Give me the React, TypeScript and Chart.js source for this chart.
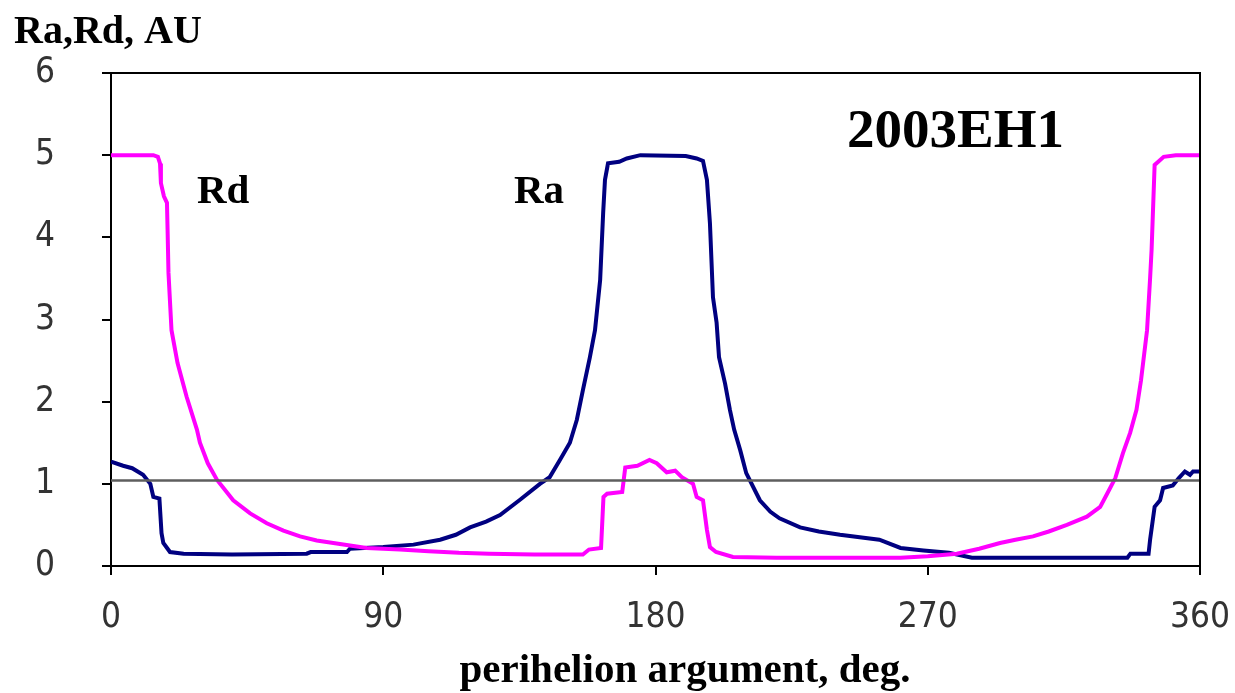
import React, { useEffect, useRef } from "react";
import { Chart, registerables } from "chart.js";

Chart.register(...registerables);

// perihelion argument (deg) and Rd (AU)
const rdX = [0, 14, 15.5, 16.2, 16.5, 17.5, 18.5, 18.7, 19, 20, 22, 25, 28.4, 29.4, 32, 35, 40.4, 46, 51.5, 57, 62.5, 68, 73.5, 79, 84.5, 90, 95.5, 105, 115, 125, 140, 150, 156, 158, 162, 162.8, 164, 169, 170, 174, 178, 180.4, 183.7, 186.5, 188.7, 192.4, 193.6, 195.7, 197, 198, 200, 205.6, 220, 250, 261, 270, 279.6, 287, 293.9, 299, 304.8, 310, 316, 322.6, 327, 329.3, 332, 334.5, 336.9, 339, 340.5, 342.5, 343.5, 344, 345, 348, 352, 360];
const rdY = [5.0, 5.0, 4.98, 4.9, 4.66, 4.5, 4.42, 4.1, 3.57, 2.87, 2.47, 2.06, 1.66, 1.5, 1.25, 1.05, 0.8, 0.64, 0.52, 0.43, 0.36, 0.31, 0.28, 0.25, 0.22, 0.21, 0.2, 0.18, 0.16, 0.15, 0.14, 0.14, 0.14, 0.2, 0.22, 0.84, 0.88, 0.9, 1.2, 1.22, 1.29, 1.25, 1.14, 1.16, 1.08, 1.0, 0.84, 0.8, 0.44, 0.23, 0.17, 0.11, 0.1, 0.1, 0.1, 0.12, 0.15, 0.21, 0.28, 0.32, 0.36, 0.42, 0.5, 0.6, 0.72, 0.88, 1.07, 1.37, 1.62, 1.9, 2.26, 2.87, 3.5, 3.85, 4.88, 4.98, 5.0, 5.0];

// perihelion argument (deg) and Ra (AU)
const raX = [0, 4, 7, 10.6, 13, 14, 16, 16.7, 17.3, 19.5, 24, 40, 64.7, 66, 78, 79, 90, 100, 108.8, 114, 118.7, 124, 128.6, 135, 141.8, 145, 148.4, 151.7, 154, 156, 158.3, 160, 161.7, 162.7, 163.3, 164.3, 168, 170.5, 175, 190, 193.6, 195.7, 197, 198, 199, 200.2, 201, 203, 204.6, 206, 208, 210, 214.5, 218, 221, 227.8, 234, 241, 254, 261, 268.6, 277, 284.6, 300, 336, 337, 343, 343.5, 345, 346.8, 347.8, 351, 353, 355, 356.7, 357.7, 360];
const raY = [1.27, 1.22, 1.19, 1.11, 1.0, 0.84, 0.82, 0.4, 0.28, 0.17, 0.15, 0.14, 0.15, 0.17, 0.17, 0.21, 0.23, 0.26, 0.32, 0.38, 0.47, 0.54, 0.62, 0.8, 1.0, 1.08, 1.29, 1.5, 1.78, 2.14, 2.54, 2.87, 3.48, 4.3, 4.7, 4.9, 4.92, 4.96, 5.0, 4.99, 4.96, 4.93, 4.7, 4.17, 3.27, 2.96, 2.54, 2.22, 1.9, 1.66, 1.41, 1.13, 0.8, 0.66, 0.58, 0.47, 0.42, 0.38, 0.32, 0.22, 0.19, 0.16, 0.1, 0.1, 0.1, 0.15, 0.15, 0.32, 0.72, 0.8, 0.95, 0.98, 1.07, 1.15, 1.11, 1.15, 1.15];

// reference level
const refX = [0, 360];
const refY = [1.04, 1.04];

const xTicks = [0, 90, 180, 270, 360];
const yTicks = [0, 1, 2, 3, 4, 5, 6];

const yTitle = "Ra,Rd, AU";
const xTitle = "perihelion argument, deg.";
const objectName = "2003EH1";
const rdLabel = "Rd";
const raLabel = "Ra";

const pts = (xs: number[], ys: number[]) => xs.map((x, i) => ({ x, y: ys[i] }));

const tickFont = "'Liberation Sans Narrow', 'DejaVu Sans Condensed', 'Liberation Sans', sans-serif";
const serif = "'Liberation Serif', 'DejaVu Serif', serif";

export default function App() {
  const ref = useRef<HTMLCanvasElement | null>(null);
  useEffect(() => {
    if (!ref.current) return;
    const textPlugin = {
      id: "texts",
      afterDraw(chart: any) {
        const { ctx, chartArea, scales } = chart;
        const xs = scales.x;
        const ys = scales.y;
        ctx.save();
        ctx.strokeStyle = "#000";
        ctx.lineWidth = 2;
        ctx.beginPath();
        ctx.moveTo(chartArea.left, chartArea.top);
        ctx.lineTo(chartArea.right, chartArea.top);
        ctx.lineTo(chartArea.right, chartArea.bottom);
        ctx.stroke();
        ctx.fillStyle = "#000";
        ctx.textBaseline = "alphabetic";
        ctx.textAlign = "left";
        ctx.font = `bold 40px ${serif}`;
        ctx.fillText(yTitle, 14, 43);
        ctx.font = `bold 41px ${serif}`;
        ctx.fillText(rdLabel, xs.getPixelForValue(28.4), ys.getPixelForValue(4.42));
        ctx.fillText(raLabel, xs.getPixelForValue(133.2), ys.getPixelForValue(4.42));
        ctx.font = `bold 55px ${serif}`;
        ctx.fillText(objectName, xs.getPixelForValue(243.3), ys.getPixelForValue(5.1));
        ctx.textAlign = "center";
        ctx.font = `bold 41px ${serif}`;
        ctx.fillText(xTitle, 685, 682);
        ctx.restore();
      },
    };
    const chart = new Chart(ref.current, {
      type: "line",
      data: {
        datasets: [
          { label: "ref", data: pts(refX, refY), borderColor: "#5e5e5e", borderWidth: 2.5, pointRadius: 0 },
          { label: "Rd", data: pts(rdX, rdY), borderColor: "#ff00ff", borderWidth: 4, pointRadius: 0, tension: 0 },
          { label: "Ra", data: pts(raX, raY), borderColor: "#000080", borderWidth: 4, pointRadius: 0, tension: 0 },
        ],
      },
      options: {
        responsive: false,
        animation: false,
        devicePixelRatio: 1,
        layout: { padding: { top: 73, right: 35, left: 0, bottom: 0 } },
        plugins: { legend: { display: false }, tooltip: { enabled: false }, title: { display: false } },
        scales: {
          x: {
            type: "linear",
            min: 0,
            max: 360,
            afterBuildTicks: (s: any) => { s.ticks = xTicks.map((v) => ({ value: v })); },
            afterFit: (s: any) => { s.height = 127; s.paddingLeft = 0; s.paddingRight = 0; },
            ticks: { color: "#333", font: { family: tickFont, size: 35 }, padding: 22, maxRotation: 0, autoSkip: false },
            grid: { drawOnChartArea: false, color: "#000", lineWidth: 2, tickLength: 9 },
            border: { display: true, color: "#000", width: 2 },
          },
          y: {
            type: "linear",
            min: 0,
            max: 6,
            afterBuildTicks: (s: any) => { s.ticks = yTicks.map((v) => ({ value: v })); },
            afterFit: (s: any) => { s.width = 111; s.paddingTop = 0; s.paddingBottom = 0; },
            ticks: { color: "#333", font: { family: tickFont, size: 35 }, padding: 47 },
            grid: { drawOnChartArea: false, color: "#000", lineWidth: 2, tickLength: 9 },
            border: { display: true, color: "#000", width: 2 },
          },
        },
      },
      plugins: [textPlugin],
    });
    return () => chart.destroy();
  }, []);
  return (
    <div style={{ position: "absolute", left: 0, top: 0, width: 1235, height: 693, background: "#fff" }}>
      <canvas ref={ref} width={1235} height={693} />
    </div>
  );
}
